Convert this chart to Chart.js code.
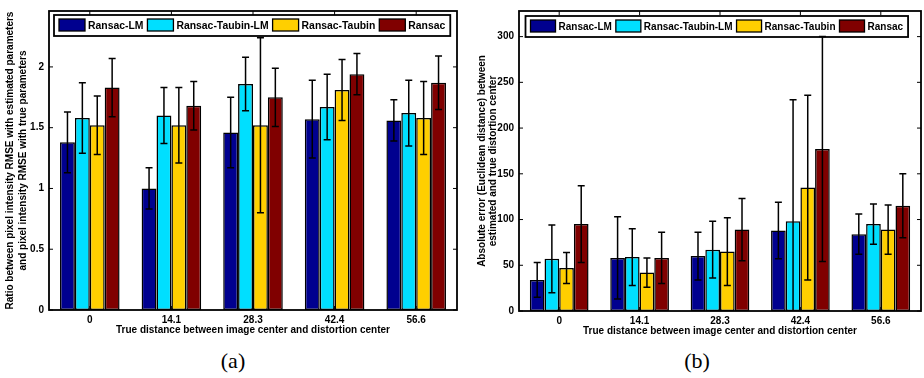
<!DOCTYPE html>
<html>
<head>
<meta charset="utf-8">
<script src="https://cdn.jsdelivr.net/npm/chart.js@4.4.1/dist/chart.umd.min.js"></script>
<style>
  body { margin: 0; background: #fff; width: 924px; height: 378px; overflow: hidden; position: relative; }
  canvas { position: absolute; top: 0; }
  #chartA { left: 0; }
  #chartB { left: 462px; }
  .cap { position: absolute; top: 348px; font-family: "Liberation Serif", "DejaVu Serif", serif; font-size: 22px; transform: translateX(-50%); }
</style>
</head>
<body>
<canvas id="chartA" width="462" height="340"></canvas>
<canvas id="chartB" width="462" height="341"></canvas>
<div class="cap" style="left:233px">(a)</div>
<div class="cap" style="left:697px">(b)</div>
<script>
const distances = ['0', '14.1', '28.3', '42.4', '56.6']
const methods = ['Ransac-LM', 'Ransac-Taubin-LM', 'Ransac-Taubin', 'Ransac']
const colors = ['#00008f', '#00dfff', '#ffcf00', '#800000']

// (a) ratio of RMSE, mean and std per method
const ratioLM = [1.38, 1.00, 1.46, 1.57, 1.56]
const ratioTaubinLM = [1.58, 1.60, 1.86, 1.67, 1.62]
const ratioTaubin = [1.52, 1.52, 1.52, 1.81, 1.58]
const ratioRansac = [1.83, 1.68, 1.75, 1.94, 1.87]
const ratioErrLM = [0.25, 0.17, 0.29, 0.32, 0.17]
const ratioErrTaubinLM = [0.29, 0.23, 0.22, 0.27, 0.27]
const ratioErrTaubin = [0.24, 0.31, 0.72, 0.25, 0.30]
const ratioErrRansac = [0.24, 0.20, 0.24, 0.17, 0.22]

// (b) absolute error of distortion center
const absLM = [34, 58, 60, 88, 84]
const absTaubinLM = [57, 59, 67, 98, 95]
const absTaubin = [47, 42, 65, 135, 89]
const absRansac = [95, 58, 89, 177, 115]
const absErrLM = [19, 45, 26, 31, 22]
const absErrTaubinLM = [37, 31, 31, 133, 22]
const absErrTaubin = [17, 16, 37, 101, 27]
const absErrRansac = [42, 28, 34, 123, 35]

const ticksA = [0, 0.5, 1, 1.5, 2]
const ticksB = [0, 50, 100, 150, 200, 250, 300]

const fontFamily = '"Liberation Sans", Arial, sans-serif'

const errorBars = {
  id: 'errorBars',
  afterDatasetsDraw (chart) {
    const { ctx, chartArea, scales } = chart
    ctx.save()
    ctx.beginPath()
    ctx.rect(chartArea.left, chartArea.top, chartArea.right - chartArea.left, chartArea.bottom - chartArea.top)
    ctx.clip()
    ctx.strokeStyle = '#000'
    ctx.lineWidth = 1.5
    chart.data.datasets.forEach((ds, i) => {
      chart.getDatasetMeta(i).data.forEach((bar, j) => {
        const v = ds.data[j].y
        const hi = scales.y.getPixelForValue(v + ds.errors[j])
        const lo = scales.y.getPixelForValue(v - ds.errors[j])
        ctx.beginPath()
        ctx.moveTo(bar.x, hi); ctx.lineTo(bar.x, lo)
        ctx.moveTo(bar.x - 3.5, hi); ctx.lineTo(bar.x + 3.5, hi)
        ctx.moveTo(bar.x - 3.5, lo); ctx.lineTo(bar.x + 3.5, lo)
        ctx.stroke()
      })
    })
    ctx.restore()
  }
}

const frameAndLegend = {
  id: 'frameAndLegend',
  afterDraw (chart, args, opts) {
    const { ctx, chartArea: a, scales } = chart
    ctx.save()
    ctx.strokeStyle = '#000'
    ctx.lineWidth = 1.8
    ctx.strokeRect(a.left, a.top, a.right - a.left, a.bottom - a.top)
    // inward ticks
    ctx.lineWidth = 1
    ctx.beginPath()
    scales.y.ticks.forEach((t, i) => {
      const y = scales.y.getPixelForTick(i)
      ctx.moveTo(a.left, y); ctx.lineTo(a.left + 4, y)
      ctx.moveTo(a.right, y); ctx.lineTo(a.right - 4, y)
    })
    scales.x.ticks.forEach((t, i) => {
      const x = scales.x.getPixelForTick(i)
      ctx.moveTo(x, a.top); ctx.lineTo(x, a.top + 4)
      ctx.moveTo(x, a.bottom); ctx.lineTo(x, a.bottom - 4)
    })
    ctx.stroke()

    // legend box inside the plot
    ctx.font = 'bold ' + opts.fontSize + 'px ' + fontFamily
    ctx.textBaseline = 'middle'
    const left = a.left + opts.dx
    const top = a.top + opts.dy
    const h = 21
    let x = left + 5
    chart.data.datasets.forEach(ds => {
      ctx.fillStyle = ds.backgroundColor
      ctx.fillRect(x, top + 4, opts.boxW, 12)
      ctx.lineWidth = 1.3
      ctx.strokeRect(x, top + 4, opts.boxW, 12)
      x += opts.boxW + 3
      ctx.fillStyle = '#000'
      ctx.fillText(ds.label, x, top + h / 2 + 0.5)
      x += ctx.measureText(ds.label).width + 4
    })
    ctx.lineWidth = 1.8
    ctx.strokeRect(left, top, x - left + 1, h)
    ctx.restore()
  }
}

function makeChart (id, series, errs, cfg) {
  new Chart(document.getElementById(id), {
    type: 'bar',
    data: {
      datasets: methods.map((m, i) => ({
        label: m,
        data: series[i].map((v, j) => ({ x: j, y: v })),
        errors: errs[i],
        backgroundColor: colors[i],
        borderColor: '#000',
        borderWidth: 1.5,
        borderSkipped: false,
        categoryPercentage: 0.73,
        barPercentage: 1.0
      }))
    },
    options: {
      responsive: false,
      animation: false,
      devicePixelRatio: 1,
      layout: { padding: { top: cfg.top, right: cfg.right, left: 0, bottom: 0 } },
      plugins: {
        legend: { display: false },
        tooltip: { enabled: false },
        frameAndLegend: cfg.legend
      },
      scales: {
        x: {
          type: 'linear',
          offset: false,
          min: -0.5,
          max: 4.5,
          grid: { display: false, drawTicks: false },
          border: { display: false },
          afterBuildTicks: s => { s.ticks = distances.map((d, j) => ({ value: j })) },
          ticks: {
            color: '#000',
            font: { family: fontFamily, size: 10, weight: 'bold' },
            padding: 4,
            callback: v => distances[v]
          },
          title: {
            display: true,
            text: 'True distance between image center and distortion center',
            color: '#000',
            font: { family: fontFamily, size: 10, weight: 'bold', lineHeight: 1.2 },
            padding: { top: 0, bottom: 4 }
          },
          afterFit: s => { s.height = 30 }
        },
        y: {
          min: 0,
          max: cfg.max,
          grid: { display: false, drawTicks: false },
          border: { display: false },
          ticks: {
            color: '#000',
            font: { family: fontFamily, size: 10, weight: 'bold' },
            padding: 5,
            callback: v => String(v)
          },
          afterBuildTicks: s => { s.ticks = cfg.ticks.map(v => ({ value: v })) },
          title: {
            display: true,
            text: cfg.title,
            color: '#000',
            font: { family: fontFamily, size: 10, weight: 'bold', lineHeight: cfg.titleLine },
            padding: { top: cfg.titlePad, bottom: 0 }
          },
          afterFit: s => { s.width = cfg.yWidth }
        }
      }
    },
    plugins: [errorBars, frameAndLegend]
  })
}

makeChart('chartA',
  [ratioLM, ratioTaubinLM, ratioTaubin, ratioRansac],
  [ratioErrLM, ratioErrTaubinLM, ratioErrTaubin, ratioErrRansac],
  {
    max: 2.46, ticks: ticksA, top: 5, right: 5, yWidth: 49, titlePad: 4, titleLine: 1.3,
    title: ['Ratio between pixel intensity RMSE with estimated parameters', 'and pixel intensity RMSE with true parameters'],
    legend: { dx: 5, dy: 4, boxW: 26, fontSize: 10.4 }
  })

makeChart('chartB',
  [absLM, absTaubinLM, absTaubin, absRansac],
  [absErrLM, absErrTaubinLM, absErrTaubin, absErrRansac],
  {
    max: 328, ticks: ticksB, top: 4, right: 3, yWidth: 57, titlePad: 15, titleLine: 1.1,
    title: ['Absolute error (Euclidean distance) between', 'estimated and true distortion center'],
    legend: { dx: 6.5, dy: 5, boxW: 25, fontSize: 10 }
  })
</script>
</body>
</html>
